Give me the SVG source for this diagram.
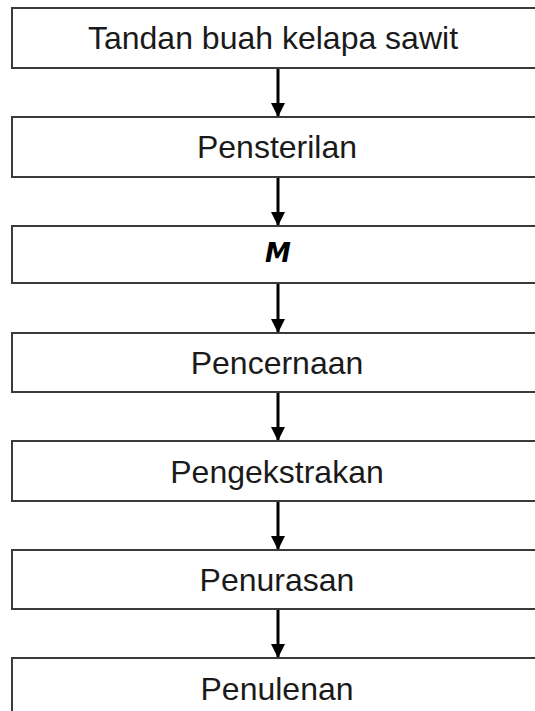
<svg xmlns="http://www.w3.org/2000/svg" width="535" height="711" viewBox="0 0 535 711">
<style>
.box{fill:#ffffff;stroke:#3a3a3a;stroke-width:2}
.lbl{font-family:"Liberation Sans",Arial,sans-serif;font-size:32px;fill:#1a1a1a;text-anchor:middle}
.m{font-family:"DejaVu Sans",sans-serif;font-size:26px;font-weight:bold;font-style:italic;fill:#000;text-anchor:middle}
.conn{stroke:#000;stroke-width:3;fill:none}
</style>
<defs>
<marker id="ah" markerUnits="userSpaceOnUse" markerWidth="14" markerHeight="16" refX="13" refY="7" orient="auto">
<path d="M0,0 L14,7 L0,14 Z" fill="#000"/>
</marker>
</defs>
<rect width="535" height="711" fill="#ffffff"/>
<g id="connectors">
<line class="conn" x1="278" y1="69" x2="278" y2="116" marker-end="url(#ah)"/>
<line class="conn" x1="278" y1="178" x2="278" y2="225" marker-end="url(#ah)"/>
<line class="conn" x1="278" y1="284" x2="278" y2="332" marker-end="url(#ah)"/>
<line class="conn" x1="278" y1="393" x2="278" y2="440" marker-end="url(#ah)"/>
<line class="conn" x1="278" y1="502" x2="278" y2="549" marker-end="url(#ah)"/>
<line class="conn" x1="278" y1="610" x2="278" y2="657" marker-end="url(#ah)"/>
</g>
<g id="n1"><rect class="box" x="12" y="8" width="540" height="60"/><text class="lbl" x="273" y="49">Tandan buah kelapa sawit</text></g>
<g id="n2"><rect class="box" x="12" y="117" width="540" height="60"/><text class="lbl" x="277" y="158">Pensterilan</text></g>
<g id="n3"><rect class="box" x="12" y="226" width="540" height="57"/><text class="m" x="278" y="262">M</text></g>
<g id="n4"><rect class="box" x="12" y="333" width="540" height="59"/><text class="lbl" x="277" y="374">Pencernaan</text></g>
<g id="n5"><rect class="box" x="12" y="441" width="540" height="60"/><text class="lbl" x="277" y="483">Pengekstrakan</text></g>
<g id="n6"><rect class="box" x="12" y="550" width="540" height="59"/><text class="lbl" x="277" y="591">Penurasan</text></g>
<g id="n7"><rect class="box" x="12" y="658" width="540" height="60"/><text class="lbl" x="277" y="700">Penulenan</text></g>
</svg>
